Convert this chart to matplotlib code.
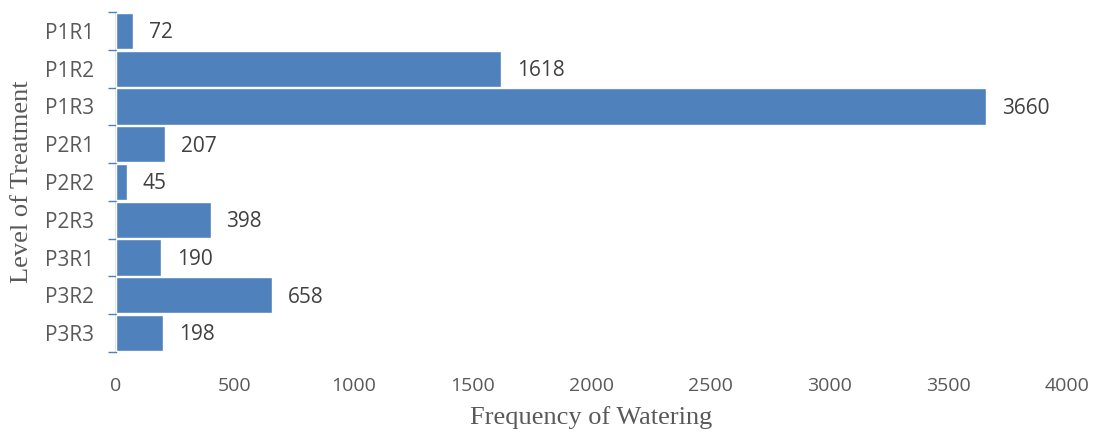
import matplotlib.pyplot as plt
import numpy as np

CATEGORIES = ["P1R1", "P1R2", "P1R3", "P2R1", "P2R2", "P2R3", "P3R1", "P3R2", "P3R3"]
VALUES = [72, 1618, 3660, 207, 45, 398, 190, 658, 198]
XTICKS = [0, 500, 1000, 1500, 2000, 2500, 3000, 3500, 4000]

BAR_COLOR = "#4F81BD"
TEXT_COLOR = "#404040"
TICK_COLOR = "#595959"

fig = plt.figure(figsize=(10.98, 4.37), dpi=100)
ax = fig.add_axes([116 / 1098, 1 - 352 / 437, (1067 - 116) / 1098, (352 - 12) / 437])

y = np.arange(len(CATEGORIES))
bars = ax.barh(y, VALUES, height=0.96, color=BAR_COLOR, edgecolor="white", linewidth=1.0, zorder=3)

for rect, v in zip(bars, VALUES):
    ax.text(rect.get_width() + 67, rect.get_y() + rect.get_height() / 2 + 0.05, f"{v}",
            ha="left", va="center", fontsize=15, color=TEXT_COLOR, family="Open Sans")

ax.set_xlim(0, 4000)
ax.set_ylim(len(CATEGORIES) - 0.5, -0.5)
ax.set_xticks(XTICKS)
ax.set_xticklabels([str(t) for t in XTICKS], fontsize=14, color=TICK_COLOR, family="Open Sans")
ax.tick_params(axis="x", length=0, pad=18)

ax.set_yticks(y)
ax.set_yticklabels(CATEGORIES, fontsize=15, color=TICK_COLOR, family="Open Sans")
ax.set_yticks(np.arange(len(CATEGORIES) + 1) - 0.5, minor=True)
ax.tick_params(axis="y", which="major", length=0, pad=16)
ax.tick_params(axis="y", which="minor", length=6, width=1, color=BAR_COLOR)

for s in ["top", "right", "bottom"]:
    ax.spines[s].set_visible(False)
ax.spines["left"].set_color(BAR_COLOR)
ax.spines["left"].set_linewidth(1)

ax.set_xlabel("Frequency of Watering", fontsize=19, color=TICK_COLOR, family="Liberation Serif", labelpad=8)
ax.set_ylabel("Level of Treatment", fontsize=19, color=TICK_COLOR, family="Liberation Serif", labelpad=8)

fig.savefig("out.png", dpi=100)
